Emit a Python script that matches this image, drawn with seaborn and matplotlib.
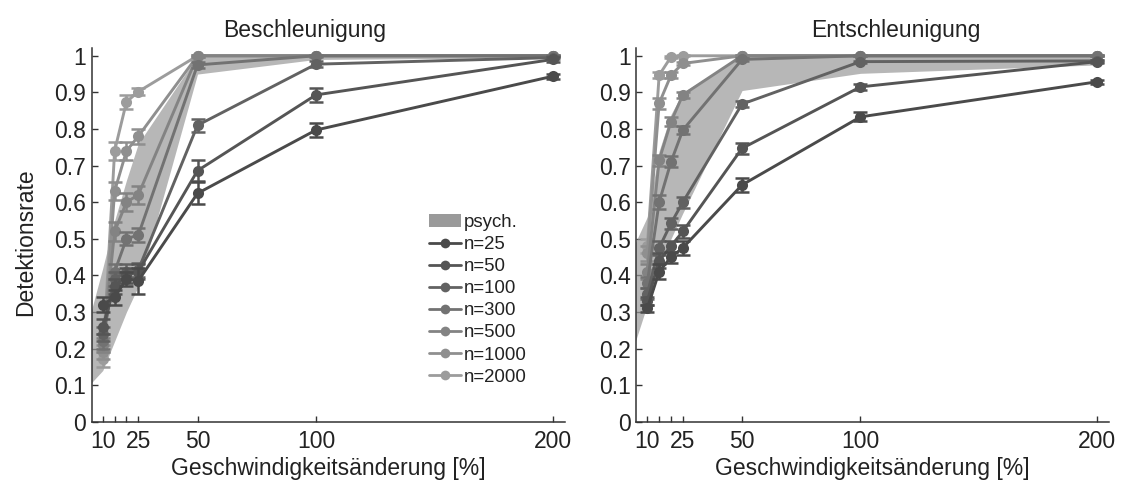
import matplotlib
matplotlib.use("Agg")
import matplotlib.pyplot as plt
import seaborn as sns
import numpy as np
import pandas as pd
from matplotlib.patches import Patch
from matplotlib.lines import Line2D

# ---------------- data ----------------
x_vals = [10, 15, 20, 25, 50, 100, 200]
n_labels = ["n=25", "n=50", "n=100", "n=300", "n=500", "n=1000", "n=2000"]
colors = ["#4a4a4a", "#555555", "#626262", "#727272", "#838383", "#8f8f8f", "#9c9c9c"]

# Beschleunigung (acceleration)
acc_n25 = [0.32, 0.34, 0.39, 0.385, 0.624, 0.797, 0.944]
acc_n50 = [0.26, 0.37, 0.40, 0.41, 0.686, 0.893, 0.990]
acc_n100 = [0.24, 0.39, 0.41, 0.415, 0.810, 0.977, 0.995]
acc_n300 = [0.22, 0.41, 0.50, 0.51, 0.975, 1.0, 1.0]
acc_n500 = [0.21, 0.52, 0.60, 0.62, 1.0, 1.0, 1.0]
acc_n1000 = [0.19, 0.63, 0.74, 0.78, 1.0, 1.0, 1.0]
acc_n2000 = [0.17, 0.74, 0.874, 0.902, 1.0, 1.0, 1.0]

acc_err_n25 = [0.02, 0.02, 0.02, 0.035, 0.03, 0.02, 0.007]
acc_err_n50 = [0.02, 0.02, 0.02, 0.02, 0.028, 0.018, 0.006]
acc_err_n100 = [0.02, 0.02, 0.02, 0.02, 0.018, 0.008, 0.004]
acc_err_n300 = [0.02, 0.02, 0.018, 0.018, 0.008, 0.002, 0.002]
acc_err_n500 = [0.02, 0.025, 0.025, 0.025, 0.003, 0.001, 0.001]
acc_err_n1000 = [0.02, 0.025, 0.025, 0.02, 0.002, 0.001, 0.001]
acc_err_n2000 = [0.02, 0.025, 0.02, 0.01, 0.002, 0.001, 0.001]

# Entschleunigung (deceleration)
dec_n25 = [0.31, 0.41, 0.45, 0.475, 0.647, 0.833, 0.929]
dec_n50 = [0.33, 0.44, 0.48, 0.52, 0.747, 0.915, 0.984]
dec_n100 = [0.35, 0.475, 0.542, 0.60, 0.868, 0.984, 0.986]
dec_n300 = [0.38, 0.60, 0.71, 0.797, 0.99, 1.0, 1.0]
dec_n500 = [0.41, 0.715, 0.82, 0.893, 1.0, 1.0, 1.0]
dec_n1000 = [0.46, 0.87, 0.947, 0.979, 1.0, 1.0, 1.0]
dec_n2000 = [0.48, 0.947, 0.997, 1.0, 1.0, 1.0, 1.0]

dec_err_n25 = [0.01, 0.02, 0.015, 0.02, 0.018, 0.012, 0.005]
dec_err_n50 = [0.01, 0.02, 0.015, 0.018, 0.015, 0.008, 0.004]
dec_err_n100 = [0.015, 0.02, 0.015, 0.015, 0.008, 0.003, 0.003]
dec_err_n300 = [0.015, 0.02, 0.015, 0.012, 0.003, 0.001, 0.001]
dec_err_n500 = [0.02, 0.015, 0.012, 0.008, 0.001, 0.001, 0.001]
dec_err_n1000 = [0.02, 0.015, 0.008, 0.005, 0.001, 0.001, 0.001]
dec_err_n2000 = [0.02, 0.008, 0.003, 0.001, 0.001, 0.001, 0.001]

# psychophysical range (band)
band_x = [5, 10, 15, 20, 25, 50, 100, 200]
acc_band_low = [0.105, 0.14, 0.22, 0.30, 0.37, 0.95, 0.99, 0.995]
acc_band_high = [0.30, 0.42, 0.55, 0.66, 0.76, 1.0, 1.0, 1.0]
dec_band_low = [0.22, 0.32, 0.42, 0.50, 0.57, 0.905, 0.952, 0.975]
dec_band_high = [0.49, 0.56, 0.74, 0.84, 0.90, 1.0, 1.0, 1.0]

x_ticks = [10, 15, 20, 25, 50, 100, 200]
x_ticklabels = ["10", "", "", "25", "50", "100", "200"]
y_ticks = [0, 0.1, 0.2, 0.3, 0.4, 0.5, 0.6, 0.7, 0.8, 0.9, 1.0]
y_ticklabels = ["0", "0.1", "0.2", "0.3", "0.4", "0.5", "0.6", "0.7", "0.8", "0.9", "1"]

titles = ["Beschleunigung", "Entschleunigung"]
xlabel = "Geschwindigkeitsänderung [%]"
ylabel = "Detektionsrate"

acc_series = [acc_n25, acc_n50, acc_n100, acc_n300, acc_n500, acc_n1000, acc_n2000]
acc_errs = [acc_err_n25, acc_err_n50, acc_err_n100, acc_err_n300, acc_err_n500, acc_err_n1000, acc_err_n2000]
dec_series = [dec_n25, dec_n50, dec_n100, dec_n300, dec_n500, dec_n1000, dec_n2000]
dec_errs = [dec_err_n25, dec_err_n50, dec_err_n100, dec_err_n300, dec_err_n500, dec_err_n1000, dec_err_n2000]

# ---------------- style ----------------
sns.set_style("ticks")
plt.rcParams["font.family"] = ["Liberation Sans", "DejaVu Sans"]
FS = 16.5
axis_color = "#333333"

fig = plt.figure(figsize=(11.26, 4.86), dpi=100)
ax_l = fig.add_axes([0.0814, 0.1323, 0.420, 0.768])
ax_r = fig.add_axes([0.5650, 0.1323, 0.420, 0.768])

band_color = "#999999"


def draw_panel(ax, series, errs, b_low, b_high, title, title_x):
    ax.fill_between(band_x, b_low, b_high, color=band_color, alpha=0.7,
                    linewidth=0, zorder=1)
    order = list(range(len(series)))[::-1]  # dark lines on top
    for k, i in enumerate(order):
        df = pd.DataFrame({"x": x_vals, "y": series[i]})
        sns.lineplot(data=df, x="x", y="y", ax=ax, color=colors[i],
                     linewidth=2.1, marker="o", markersize=8,
                     markeredgewidth=0, zorder=3 + k, legend=False)
        ax.errorbar(x_vals, series[i], yerr=errs[i], fmt="none",
                    ecolor=colors[i], elinewidth=1.8, capsize=5,
                    capthick=1.8, zorder=3 + k)
    ax.set_xlim(5.3, 205)
    ax.set_ylim(0, 1.02)
    ax.set_xticks(x_ticks)
    ax.set_xticklabels(x_ticklabels)
    ax.set_yticks(y_ticks)
    ax.set_yticklabels(y_ticklabels)
    ax.tick_params(direction="in", length=4.5, width=1.0, color=axis_color,
                   labelsize=FS, labelcolor="#222222")
    ax.tick_params(axis="x", pad=6)
    ax.tick_params(axis="y", pad=4)
    for s in ["top", "right"]:
        ax.spines[s].set_visible(False)
    for s in ["left", "bottom"]:
        ax.spines[s].set_color(axis_color)
        ax.spines[s].set_linewidth(1.1)
    ax.set_xlabel(xlabel, fontsize=FS, color="#222222", labelpad=3)
    ax.set_ylabel("")
    ax.set_title(title, fontsize=FS, color="#222222", pad=8, x=title_x)


draw_panel(ax_l, acc_series, acc_errs, acc_band_low, acc_band_high, titles[0], 0.45)
draw_panel(ax_r, dec_series, dec_errs, dec_band_low, dec_band_high, titles[1], 0.55)

ax_l.set_ylabel(ylabel, fontsize=FS, color="#222222")
ax_l.yaxis.set_label_coords(-0.115, 0.48)

handles = [Patch(facecolor="#9a9a9a", edgecolor="none", label="psych.")]
for i, lab in enumerate(n_labels):
    handles.append(Line2D([0], [0], color=colors[i], linewidth=2.0, marker="o",
                          markersize=7, markeredgewidth=0, label=lab))
leg = ax_l.legend(handles=handles, loc="upper left", bbox_to_anchor=(0.714, 0.556),
                  frameon=False, fontsize=13.4, handlelength=1.7, handletextpad=0.15,
                  labelspacing=0.27, borderpad=0, borderaxespad=0)
for t in leg.get_texts():
    t.set_color("#222222")

fig.savefig("out.png", dpi=100)
